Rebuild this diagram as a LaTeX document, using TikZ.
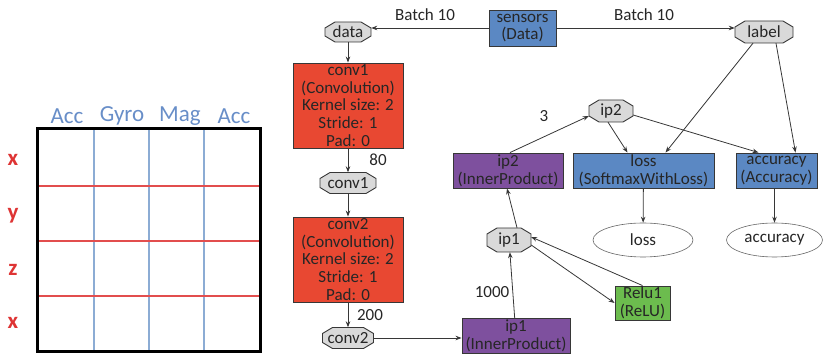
\documentclass[tikz,border=0pt]{standalone}
\usepackage{fontspec}
\setmainfont{Carlito}
\usetikzlibrary{shapes.geometric,arrows.meta}
\definecolor{boxblue}{RGB}{91,136,195}
\definecolor{boxred}{RGB}{232,72,50}
\definecolor{boxpurple}{RGB}{126,80,158}
\definecolor{boxgreen}{RGB}{108,188,78}
\definecolor{octgray}{RGB}{217,217,217}
\definecolor{edgegray}{RGB}{55,55,55}
\definecolor{gridblue}{RGB}{140,172,212}
\definecolor{gridred}{RGB}{226,78,78}
\definecolor{lblblue}{RGB}{104,142,200}
\definecolor{lblred}{RGB}{222,52,52}
\tikzset{
  txt/.style={font=\fontsize{17}{17.7}\selectfont, text=black!85},
  layer/.style={txt, draw=edgegray, line width=0.9pt, inner sep=0pt, align=center},
  octshape/.style={draw=edgegray, line width=0.9pt, fill=octgray, line join=miter},
  blobtxt/.style={txt, inner sep=0pt},
  outp/.style={txt, ellipse, draw=black!60, line width=0.6pt, inner sep=0pt},
  conn/.style={draw=edgegray, line width=0.8pt, -{Stealth[length=6pt,width=4.5pt]}},
  elabel/.style={txt},
  gridlbl/.style={font=\fontsize{23}{23}\selectfont, inner sep=0pt},
  rowlbl/.style={font=\fontsize{23}{23}\selectfont\bfseries, inner sep=0pt, text=lblred},
}
% octagon node: name, x, y, width, height, text
\newcommand\octnode[6]{%
  \draw[octshape, shift={(#2,#3)}]
    ({-#4/2},{-#5/2+6}) -- ({-#4/2+10},{-#5/2}) -- ({#4/2-10},{-#5/2}) -- ({#4/2},{-#5/2+6})
    -- ({#4/2},{#5/2-6}) -- ({#4/2-10},{#5/2}) -- ({-#4/2+10},{#5/2}) -- ({-#4/2},{#5/2-6}) -- cycle;
  \node[blobtxt, minimum width=#4pt, minimum height=#5pt] (#1) at (#2,#3) {#6};
}
\begin{document}
\begin{tikzpicture}[x=1pt,y=-1pt]
\useasboundingbox (0,0) rectangle (823,355);
% ---- left grid ----
\foreach \gx in {94,149,204} \draw[gridblue, line width=1.3pt] (\gx,129) -- (\gx,352);
\foreach \gy in {186,241,296} \draw[gridred, line width=1.5pt] (37,\gy) -- (260,\gy);
\draw[black, line width=3pt] (37,129) rectangle (260,352);
\node[gridlbl, text=lblblue] (c1) at (67,116) {Acc};
\node[gridlbl, text=lblblue] (c2) at (122,116) {Gyro};
\node[gridlbl, text=lblblue] (c3) at (180,116) {Mag};
\node[gridlbl, text=lblblue] (c4) at (234,116) {Acc};
\node[rowlbl] (r1) at (13,160) {x};
\node[rowlbl] (r2) at (13,216) {y};
\node[rowlbl] (r3) at (13,270) {z};
\node[rowlbl] (r4) at (13,323) {x};
% ---- network ----
\node[layer, fill=boxblue, minimum width=67pt, minimum height=36pt] (sensors) at (522.5,28) {sensors\\(Data)};
\octnode{data}{348}{32}{46}{20}{data}
\octnode{label}{764}{32}{58}{22}{label}
\node[layer, fill=boxred, minimum width=110pt, minimum height=85pt] (conv1b) at (348,105.5) {conv1\\(Convolution)\\Kernel size: 2\\Stride: 1\\Pad: 0};
\octnode{conv1o}{348}{183}{56}{21}{conv1}
\node[layer, fill=boxred, minimum width=110pt, minimum height=85pt] (conv2b) at (348,259.5) {conv2\\(Convolution)\\Kernel size: 2\\Stride: 1\\Pad: 0};
\octnode{conv2o}{348}{338}{51}{21}{conv2}
\node[layer, fill=boxpurple, minimum width=108pt, minimum height=35pt] (ip1b) at (516,336) {ip1\\(InnerProduct)};
\octnode{ip1o}{509}{240}{44}{24}{ip1}
\node[layer, fill=boxgreen, minimum width=55pt, minimum height=34pt] (relu) at (642.5,303) {Relu1\\(ReLU)};
\node[layer, fill=boxpurple, minimum width=110pt, minimum height=35pt] (ip2b) at (508,170.5) {ip2\\(InnerProduct)};
\octnode{ip2o}{611}{111}{44}{22}{ip2}
\node[layer, fill=boxblue, minimum width=141pt, minimum height=35pt] (lossb) at (643.5,170.5) {loss\\(SoftmaxWithLoss)};
\node[layer, fill=boxblue, minimum width=81pt, minimum height=35pt] (accb) at (776.5,170.5) {accuracy\\(Accuracy)};
\node[outp, minimum width=100pt, minimum height=34pt] (losso) at (643,240) {loss};
\node[outp, minimum width=96pt, minimum height=34pt] (acco) at (774.5,240) {accuracy};
% edge labels
\node[elabel] (b1) at (425,15) {Batch 10};
\node[elabel] (b2) at (644,15) {Batch 10};
\node[elabel] (l80) at (378,160) {80};
\node[elabel] (l200) at (370,315) {200};
\node[elabel] (l1000) at (492,292) {1000};
\node[elabel] (l3) at (544,116) {3};
% connectors
\draw[conn] (sensors.west) -- (sensors.west -| data.east);
\draw[conn] (sensors.east) -- (sensors.east -| label.west);
\draw[conn] (data) -- (conv1b);
\draw[conn] (conv1b) -- (conv1o);
\draw[conn] (conv1o) -- (conv2b);
\draw[conn] (conv2b) -- (conv2o);
\draw[conn] (conv2o.east) -- (conv2o.east -| ip1b.west);
\draw[conn] (ip1b) -- (ip1o);
\draw[conn] ([yshift=-5pt]ip1o.east) -- (relu.west);
\draw[conn] (relu.north) -- ([yshift=3pt]ip1o.east);
\draw[conn] ([xshift=8pt]ip1o.north) -- ([xshift=-1pt]ip2b.south);
\draw[conn] ([xshift=2pt]ip2b.north) -- ([yshift=-5pt]ip2o.west);
\draw[conn] ([xshift=-3pt]ip2o.south) -- ([xshift=-16pt]lossb.north);
\draw[conn] ([yshift=-4pt]ip2o.east) -- ([xshift=-18pt]accb.north);
\draw[conn] ([xshift=-11pt]label.south) -- ([xshift=22pt]lossb.north);
\draw[conn] ([xshift=12pt]label.south) -- ([xshift=19pt]accb.north);
\draw[conn] (lossb) -- (losso);
\draw[conn] (accb.south -| acco) -- (acco);
\end{tikzpicture}
\end{document}
